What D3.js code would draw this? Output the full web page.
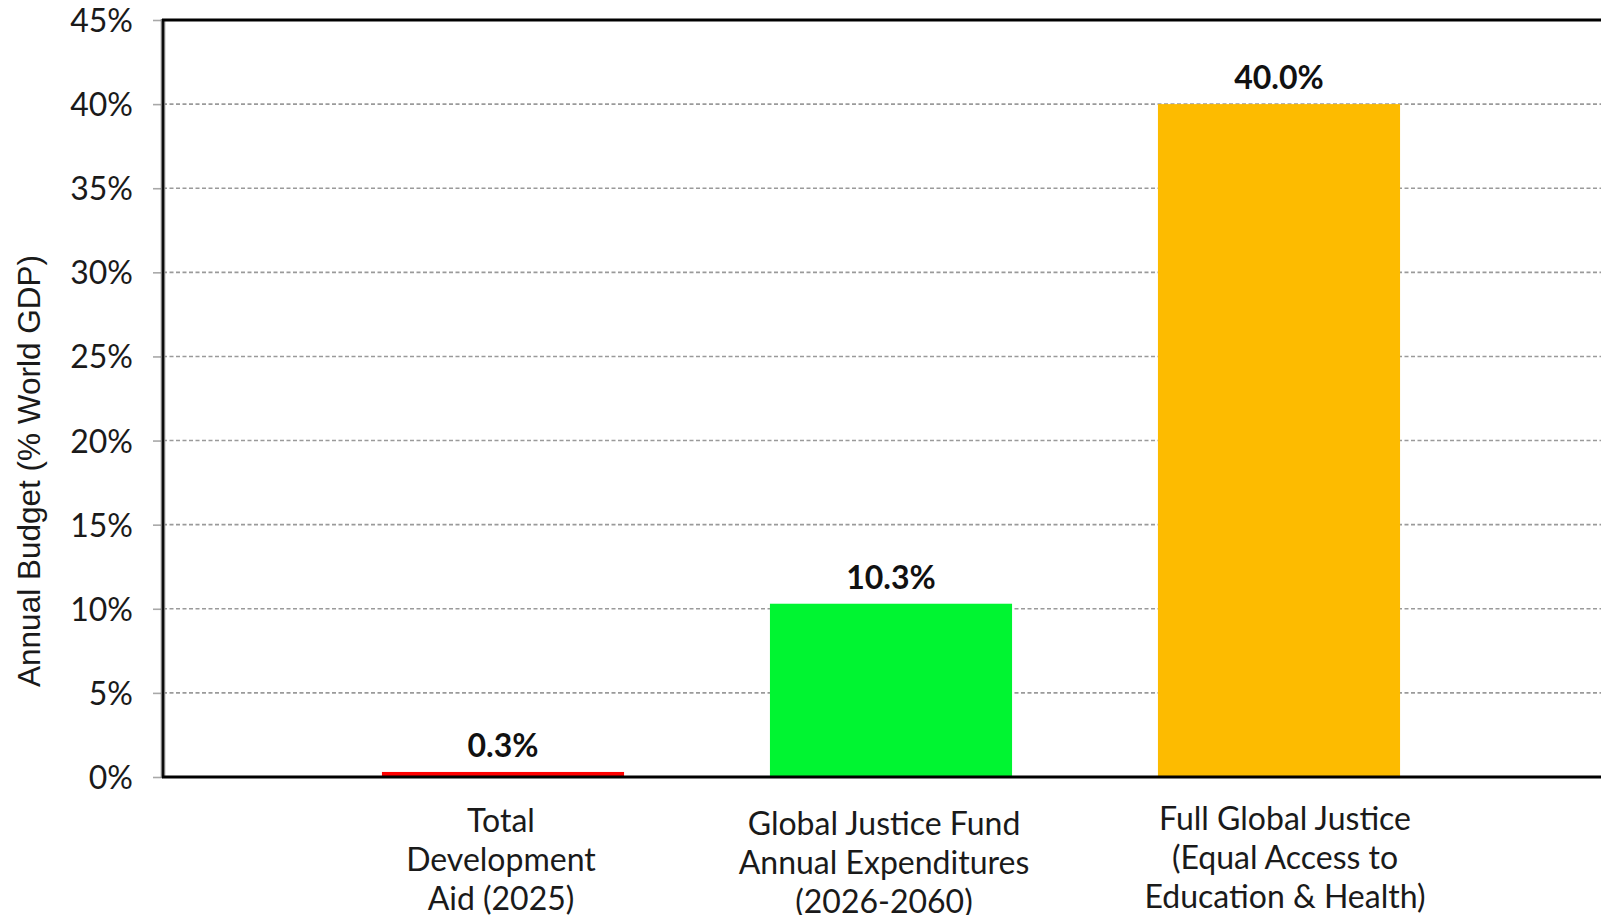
<!DOCTYPE html>
<html>
<head>
<meta charset="utf-8">
<script src="https://cdn.jsdelivr.net/npm/d3@7"></script>
<style>
  html, body { margin: 0; padding: 0; background: #fff; overflow: hidden; }
  svg { display: block; }
</style>
</head>
<body>
<svg id="chart" width="1601" height="915"></svg>
<script>
// Annual budget as share of world GDP
const categories = [
  ["Total", "Development", "Aid (2025)"],
  ["Global Justice Fund", "Annual Expenditures", "(2026-2060)"],
  ["Full Global Justice", "(Equal Access to", "Education & Health)"]
];
const values = [0.3, 10.3, 40.0];
const valueLabels = ["0.3%", "10.3%", "40.0%"];
const barColors = ["#ff0000", "#00f531", "#fdbb00"];
const yTicks = [0, 5, 10, 15, 20, 25, 30, 35, 40, 45];
const yTickLabels = ["0%", "5%", "10%", "15%", "20%", "25%", "30%", "35%", "40%", "45%"];
const yTitle = "Annual Budget (% World GDP)";

const W = 1601, H = 915;
const plot = { left: 163, right: 1601, top: 20, bottom: 777 };

const svg = d3.select("#chart");

const y = d3.scaleLinear().domain([0, 45]).range([plot.bottom, plot.top]);
const keys = categories.map((c, i) => "c" + i);
const x = d3.scaleBand()
  .domain(keys)
  .range([309, 1473])
  .paddingInner(0.376)
  .paddingOuter(0.188);

// dashed horizontal gridlines
svg.append("g")
  .selectAll("line")
  .data(yTicks.filter(t => t > 0 && t < 45))
  .join("line")
  .attr("x1", plot.left)
  .attr("x2", plot.right)
  .attr("y1", d => y(d))
  .attr("y2", d => y(d))
  .attr("stroke", "#9a9a9a")
  .attr("stroke-width", 1.6)
  .attr("stroke-dasharray", "4,2.5");

// bars
svg.append("g")
  .selectAll("rect")
  .data(values)
  .join("rect")
  .attr("x", (d, i) => x(keys[i]))
  .attr("width", x.bandwidth())
  .attr("y", d => y(d))
  .attr("height", d => y(0) - y(d))
  .attr("fill", (d, i) => barColors[i]);

// value labels
svg.append("g")
  .selectAll("text")
  .data(values)
  .join("text")
  .attr("x", (d, i) => x(keys[i]) + x.bandwidth() / 2)
  .attr("y", d => y(d) - 15)
  .attr("text-anchor", "middle")
  .attr("font-family", "Lato, sans-serif")
  .attr("font-weight", "bold")
  .attr("font-size", 32)
  .attr("fill", "#111")
  .text((d, i) => valueLabels[i]);

// y axis
const yAxis = d3.axisLeft(y)
  .tickValues(yTicks)
  .tickFormat((d, i) => yTickLabels[i])
  .tickSize(10)
  .tickPadding(20);
const gy = svg.append("g")
  .attr("transform", `translate(${plot.left},0)`)
  .call(yAxis);
gy.select(".domain").remove();
gy.selectAll(".tick line").attr("stroke", "#a8a8a8").attr("stroke-width", 1.6);
gy.selectAll(".tick text")
  .attr("font-family", "Lato, sans-serif")
  .attr("font-size", 32)
  .attr("fill", "#1a1a1a")
  .attr("dy", "0.36em");

// frame lines: left axis, top border, baseline
svg.append("line")
  .attr("x1", plot.left).attr("x2", plot.left)
  .attr("y1", plot.top - 1).attr("y2", plot.bottom + 1)
  .attr("stroke", "#7a7a7a").attr("stroke-width", 4.5);
svg.append("line")
  .attr("x1", plot.left).attr("x2", plot.left)
  .attr("y1", plot.top).attr("y2", plot.bottom)
  .attr("stroke", "#000").attr("stroke-width", 1.8);
svg.append("line")
  .attr("x1", plot.left - 1).attr("x2", plot.right)
  .attr("y1", plot.top).attr("y2", plot.top)
  .attr("stroke", "#000").attr("stroke-width", 3);
svg.append("line")
  .attr("x1", plot.left - 1).attr("x2", plot.right)
  .attr("y1", y(0)).attr("y2", y(0))
  .attr("stroke", "#000").attr("stroke-width", 3);

// category labels (each wrapped block is nudged slightly, as laid out in the source deck)
const labelNudge = [[-2, 0], [-7, 3], [6, -2]];
const xl = svg.append("g");
categories.forEach((lines, i) => {
  const t = xl.append("text")
    .attr("text-anchor", "middle")
    .attr("font-family", "Lato, sans-serif")
    .attr("font-size", 32)
    .attr("fill", "#1a1a1a");
  lines.forEach((ln, j) => {
    t.append("tspan")
      .attr("x", x(keys[i]) + x.bandwidth() / 2 + labelNudge[i][0])
      .attr("y", 832 + labelNudge[i][1] + j * 38.8)
      .text(ln);
  });
});

// y axis title
svg.append("text")
  .attr("transform", `translate(40,471) rotate(-90)`)
  .attr("text-anchor", "middle")
  .attr("font-family", "Liberation Sans, Arial, sans-serif")
  .attr("font-size", 31.5)
  .attr("fill", "#1a1a1a")
  .text(yTitle);
</script>
</body>
</html>
